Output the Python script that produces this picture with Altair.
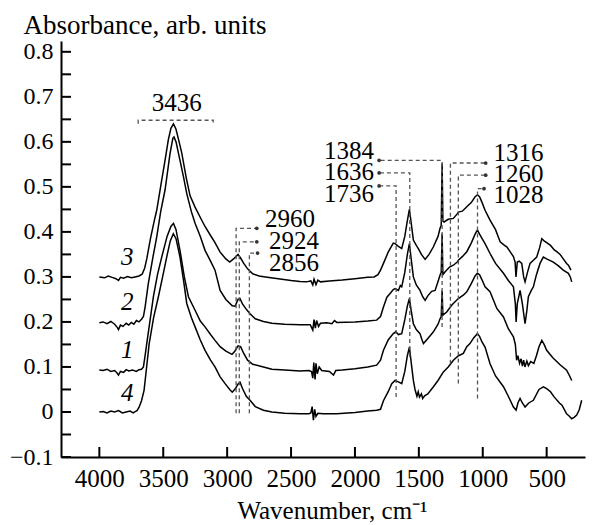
import altair as alt
import pandas as pd

# ---------------- data ----------------
c3_wn = [4000,3960,3930,3900,3870,3850,3835,3810,3780,3750,3720,3690,3665,3645,3629,3600,3570,3551,3512,3486,3460,3440,3420,3400,3380,3355,3320,3290,3251,3210,3173,3130,3095,3055,3010,2980,2950,2915,2895,2870,2840,2800,2750,2700,2600,2500,2430,2380,2345,2330,2320,2305,2290,2270,2200,2100,2000,1900,1850,1820,1800,1777,1740,1700,1686,1660,1634,1610,1590,1574,1560,1543,1520,1504,1480,1451,1420,1386,1350,1334,1325,1318,1312,1303,1270,1230,1200,1191,1160,1125,1090,1060,1042,1025,1005,982,943,900,864,830,812,786,760,747,740,730,715,695,680,669,650,630,600,578,555,538,520,500,470,440,421,395,370,344,330,310]
c3_val = [0.300,0.298,0.302,0.299,0.296,0.292,0.299,0.297,0.301,0.298,0.300,0.302,0.306,0.320,0.340,0.385,0.425,0.448,0.515,0.559,0.605,0.630,0.640,0.628,0.605,0.575,0.520,0.480,0.455,0.432,0.412,0.392,0.376,0.355,0.340,0.333,0.340,0.350,0.342,0.330,0.318,0.307,0.302,0.300,0.296,0.292,0.290,0.289,0.291,0.282,0.295,0.283,0.293,0.289,0.291,0.293,0.296,0.299,0.300,0.305,0.315,0.330,0.355,0.375,0.374,0.368,0.363,0.390,0.425,0.450,0.420,0.382,0.370,0.363,0.350,0.339,0.350,0.367,0.390,0.408,0.415,0.552,0.424,0.422,0.428,0.430,0.440,0.444,0.446,0.456,0.465,0.478,0.482,0.478,0.465,0.448,0.426,0.405,0.378,0.370,0.367,0.356,0.345,0.333,0.300,0.333,0.335,0.330,0.300,0.289,0.310,0.330,0.338,0.344,0.365,0.385,0.380,0.376,0.370,0.360,0.356,0.350,0.340,0.330,0.326,0.315]

c2_wn = [4000,3970,3940,3910,3880,3860,3850,3835,3815,3790,3770,3750,3730,3710,3690,3670,3655,3642,3617,3580,3551,3520,3486,3447,3425,3416,3400,3369,3340,3316,3280,3251,3210,3173,3130,3095,3055,3010,2960,2938,2915,2900,2880,2850,2821,2780,2716,2650,2550,2430,2350,2330,2320,2310,2300,2285,2270,2220,2180,2160,2142,2000,1900,1830,1800,1777,1750,1725,1700,1686,1660,1645,1634,1610,1590,1574,1560,1543,1520,1491,1470,1451,1430,1400,1373,1350,1334,1325,1318,1312,1296,1260,1230,1200,1191,1160,1125,1090,1060,1042,1025,1005,982,943,900,838,800,760,745,739,730,708,690,669,655,643,620,604,580,552,526,500,448,410,370,330,315,304]
c2_val = [0.198,0.200,0.196,0.201,0.195,0.188,0.183,0.193,0.190,0.197,0.193,0.199,0.195,0.203,0.200,0.206,0.212,0.233,0.285,0.345,0.389,0.445,0.493,0.574,0.608,0.611,0.600,0.559,0.520,0.485,0.445,0.419,0.390,0.359,0.335,0.315,0.270,0.250,0.236,0.235,0.250,0.252,0.240,0.228,0.218,0.207,0.201,0.197,0.195,0.194,0.194,0.182,0.205,0.186,0.203,0.190,0.197,0.198,0.196,0.203,0.199,0.200,0.202,0.204,0.212,0.233,0.255,0.263,0.272,0.274,0.270,0.281,0.278,0.310,0.350,0.374,0.340,0.300,0.282,0.270,0.256,0.248,0.258,0.268,0.270,0.290,0.304,0.310,0.396,0.305,0.311,0.322,0.326,0.333,0.337,0.345,0.356,0.375,0.395,0.404,0.395,0.385,0.374,0.352,0.330,0.308,0.292,0.278,0.240,0.200,0.240,0.270,0.240,0.196,0.225,0.256,0.270,0.278,0.305,0.330,0.344,0.340,0.333,0.325,0.315,0.308,0.300,0.289]

c1_wn = [4000,3970,3940,3910,3880,3860,3850,3835,3810,3790,3770,3740,3710,3690,3670,3655,3642,3629,3600,3577,3545,3512,3470,3440,3420,3400,3369,3335,3303,3251,3210,3173,3130,3095,3055,3010,2962,2940,2915,2895,2870,2840,2800,2716,2650,2550,2430,2360,2340,2330,2322,2312,2305,2295,2280,2260,2200,2168,2150,2100,2000,1900,1830,1800,1777,1740,1700,1680,1660,1634,1610,1590,1574,1560,1543,1520,1491,1475,1464,1440,1410,1386,1350,1334,1325,1318,1312,1282,1240,1191,1150,1125,1090,1060,1042,1025,1005,982,943,890,838,800,760,745,735,725,712,700,690,680,670,655,643,625,600,580,560,538,520,500,450,421,395,344,320,304]
c1_val = [0.093,0.092,0.095,0.090,0.092,0.086,0.082,0.090,0.088,0.094,0.091,0.093,0.090,0.094,0.095,0.100,0.125,0.152,0.210,0.256,0.305,0.344,0.390,0.412,0.419,0.405,0.359,0.300,0.256,0.226,0.202,0.189,0.172,0.159,0.145,0.135,0.128,0.135,0.147,0.145,0.130,0.115,0.106,0.100,0.095,0.093,0.091,0.092,0.090,0.075,0.110,0.072,0.108,0.085,0.100,0.092,0.090,0.082,0.092,0.093,0.096,0.100,0.104,0.115,0.137,0.160,0.174,0.178,0.172,0.174,0.205,0.235,0.252,0.225,0.196,0.183,0.174,0.160,0.152,0.160,0.170,0.178,0.195,0.207,0.212,0.270,0.215,0.222,0.238,0.252,0.260,0.267,0.285,0.302,0.308,0.305,0.293,0.278,0.267,0.230,0.211,0.185,0.167,0.150,0.115,0.125,0.108,0.118,0.102,0.115,0.100,0.113,0.103,0.112,0.108,0.125,0.145,0.159,0.150,0.137,0.120,0.112,0.105,0.093,0.080,0.070]

c4_wn = [4000,3970,3940,3910,3880,3850,3820,3790,3760,3735,3720,3705,3690,3670,3650,3630,3610,3575,3538,3505,3473,3445,3421,3400,3369,3340,3316,3280,3251,3210,3173,3130,3095,3055,3016,2980,2960,2935,2915,2899,2880,2850,2821,2780,2716,2650,2550,2430,2360,2345,2335,2325,2315,2305,2290,2250,2142,2000,1900,1830,1800,1777,1740,1712,1686,1660,1634,1610,1590,1574,1560,1543,1530,1515,1505,1495,1480,1470,1455,1430,1386,1350,1308,1270,1230,1190,1152,1125,1100,1070,1042,1025,1005,982,943,900,838,800,760,739,725,708,690,669,640,604,560,526,500,470,440,400,380,344,320,304,285,265,245,226]
c4_val = [0.000,0.001,-0.002,0.002,0.000,0.003,-0.002,0.000,0.002,-0.002,0.001,0.003,0.010,0.025,0.048,0.100,0.152,0.210,0.256,0.300,0.344,0.380,0.396,0.385,0.344,0.290,0.241,0.210,0.189,0.160,0.137,0.115,0.100,0.078,0.063,0.050,0.044,0.052,0.062,0.066,0.052,0.035,0.026,0.012,0.004,0.000,-0.003,-0.004,-0.004,-0.002,0.012,-0.018,0.006,-0.010,-0.003,-0.004,-0.004,-0.001,0.002,0.004,0.006,0.025,0.045,0.063,0.070,0.067,0.063,0.090,0.125,0.144,0.110,0.070,0.050,0.035,0.045,0.033,0.040,0.030,0.036,0.040,0.056,0.070,0.089,0.100,0.115,0.125,0.130,0.145,0.152,0.165,0.174,0.168,0.155,0.144,0.107,0.080,0.056,0.035,0.011,0.004,0.020,0.030,0.020,0.011,0.020,0.026,0.050,0.056,0.052,0.045,0.033,0.020,0.015,-0.004,-0.010,-0.015,-0.012,-0.007,0.005,0.026]

curve_names = ["3", "2", "1", "4"]
curve_label_wn = [3782, 3782, 3782, 3782]
curve_label_val = [0.344, 0.244, 0.137, 0.042]

# band annotations (dashed leader lines)
ann_labels = ["2960", "2924", "2856", "1384", "1636", "1736", "1316", "1260", "1028"]
ann_x = [2930, 2905, 2826, 1318, 1571, 1678, 1253, 1191, 1041]
ann_bottom = [-0.003, -0.003, -0.003, 0.189, 0.122, 0.033, 0.107, 0.063, 0.030]
ann_top = [0.408, 0.378, 0.353, 0.559, 0.531, 0.502, 0.553, 0.526, 0.496]
ann_end = [2768, 2768, 2762, 1811, 1811, 1811, 977, 977, 990]
ann_text_x = [2703, 2672, 2672, 1850, 1850, 1850, 916, 916, 916]
ann_text_y = [0.428, 0.379, 0.330, 0.580, 0.533, 0.484, 0.575, 0.528, 0.482]
ann_side = ["left", "left", "left", "right", "right", "right", "left", "left", "left"]

peak_label = "3436"
peak_bracket_wn = [3696, 3109]
peak_bracket_val = [0.640, 0.648]
peak_text_wn = 3394
peak_text_val = 0.686

x_ticks = [4000, 3500, 3000, 2500, 2000, 1500, 1000, 500]
y_ticks = [-0.1, 0, 0.1, 0.2, 0.3, 0.4, 0.5, 0.6, 0.7, 0.8]
y_minor = [-0.05, 0.05, 0.15, 0.25, 0.35, 0.45, 0.55, 0.65, 0.75]

# ---------------- build tables ----------------
rows = []
for name, wns, vals in [("3", c3_wn, c3_val), ("2", c2_wn, c2_val), ("1", c1_wn, c1_val), ("4", c4_wn, c4_val)]:
    for i, (w, v) in enumerate(zip(wns, vals)):
        rows.append({"curve": name, "wn": w, "val": v, "idx": i})
spec = pd.DataFrame(rows)

lead_rows = []
for lab, xl, yb, yt, xe in zip(ann_labels, ann_x, ann_bottom, ann_top, ann_end):
    lead_rows += [
        {"lab": lab, "wn": xl, "val": yb, "o": 0},
        {"lab": lab, "wn": xl, "val": yt, "o": 1},
        {"lab": lab, "wn": xe, "val": yt, "o": 2},
    ]
b0, b1 = peak_bracket_wn
v0, v1 = peak_bracket_val
lead_rows += [
    {"lab": peak_label, "wn": b0, "val": v0, "o": 0},
    {"lab": peak_label, "wn": b0, "val": v1, "o": 1},
    {"lab": peak_label, "wn": b1, "val": v1, "o": 2},
    {"lab": peak_label, "wn": b1, "val": v0, "o": 3},
]
leads = pd.DataFrame(lead_rows)
dots = pd.DataFrame({"wn": ann_end, "val": ann_top})
ann_text = pd.DataFrame({"lab": ann_labels, "wn": ann_text_x, "val": ann_text_y, "side": ann_side})
peak_text = pd.DataFrame({"lab": [peak_label], "wn": [peak_text_wn], "val": [peak_text_val]})
curve_text = pd.DataFrame({"lab": curve_names, "wn": curve_label_wn, "val": curve_label_val})
xt = pd.DataFrame({"wn": x_ticks})
yt = pd.DataFrame({"val": y_ticks + y_minor})

W, H = 524, 416
FONT = "Liberation Serif"
ANN = 25

xscale = alt.Scale(domain=[200, 4300], reverse=True, nice=False, zero=False)
yscale = alt.Scale(domain=[-0.1, 0.824], nice=False, zero=False)

X = alt.X("wn:Q", scale=xscale,
          axis=alt.Axis(values=x_ticks, format="d", title="Wavenumber, cm⁻¹", grid=False, ticks=False,
                        labelPadding=9, labelFontSize=25, titleFontSize=25,
                        titleX=271, titleY=53, titleBaseline="middle", titleAlign="center"))
Y = alt.Y("val:Q", scale=yscale,
          axis=alt.Axis(values=y_ticks, format="~g", title="Absorbance, arb. units", grid=False,
                        ticks=False, labelPadding=8, labelFontSize=24, titleFontSize=27,
                        titleAngle=0, titleX=-38, titleY=-16,
                        titleAlign="left", titleBaseline="middle"))

lines = alt.Chart(spec).mark_line(color="black", strokeWidth=1.5).encode(
    x=X, y=Y, detail="curve:N", order="idx:Q")

lead = alt.Chart(leads).mark_line(color="#555555", strokeWidth=1.3, strokeDash=[4, 3]).encode(
    x=alt.X("wn:Q", scale=xscale), y=alt.Y("val:Q", scale=yscale), detail="lab:N", order="o:Q")

dot = alt.Chart(dots).mark_point(filled=True, color="#333333", size=14, opacity=1).encode(
    x=alt.X("wn:Q", scale=xscale), y=alt.Y("val:Q", scale=yscale))

txt_left = alt.Chart(ann_text).transform_filter(alt.datum.side == "left").mark_text(
    font=FONT, fontSize=ANN, align="left", baseline="middle", color="black").encode(
    x=alt.X("wn:Q", scale=xscale), y=alt.Y("val:Q", scale=yscale), text="lab:N")
txt_right = alt.Chart(ann_text).transform_filter(alt.datum.side == "right").mark_text(
    font=FONT, fontSize=ANN, align="right", baseline="middle", color="black").encode(
    x=alt.X("wn:Q", scale=xscale), y=alt.Y("val:Q", scale=yscale), text="lab:N")
txt_peak = alt.Chart(peak_text).mark_text(
    font=FONT, fontSize=ANN, align="center", baseline="middle", color="black").encode(
    x=alt.X("wn:Q", scale=xscale), y=alt.Y("val:Q", scale=yscale), text="lab:N")
txt_curve = alt.Chart(curve_text).mark_text(
    font=FONT, fontSize=ANN, fontStyle="italic", align="center", baseline="middle", color="black").encode(
    x=alt.X("wn:Q", scale=xscale), y=alt.Y("val:Q", scale=yscale), text="lab:N")

xtick = alt.Chart(xt).mark_rule(color="black", strokeWidth=2).encode(
    x=alt.X("wn:Q", scale=xscale), y=alt.value(H), y2=alt.value(H - 10))
ytick = alt.Chart(yt).mark_rule(color="black", strokeWidth=2).encode(
    y=alt.Y("val:Q", scale=yscale), x=alt.value(0), x2=alt.value(10))

chart = alt.layer(lines, lead, dot, txt_left, txt_right, txt_peak, txt_curve, xtick, ytick).properties(
    width=W, height=H,
    background="white",
    autosize=alt.AutoSizeParams(type="none"),
    padding={"left": 61, "top": 41, "right": 10, "bottom": 68},
).configure_view(stroke=None).configure_axis(
    domainColor="black", domainWidth=2, labelFont=FONT, labelColor="black",
    titleFont=FONT, titleFontWeight="normal", titleColor="black",
)

chart.save("out.html", embed_options={"renderer": "svg", "actions": False})
